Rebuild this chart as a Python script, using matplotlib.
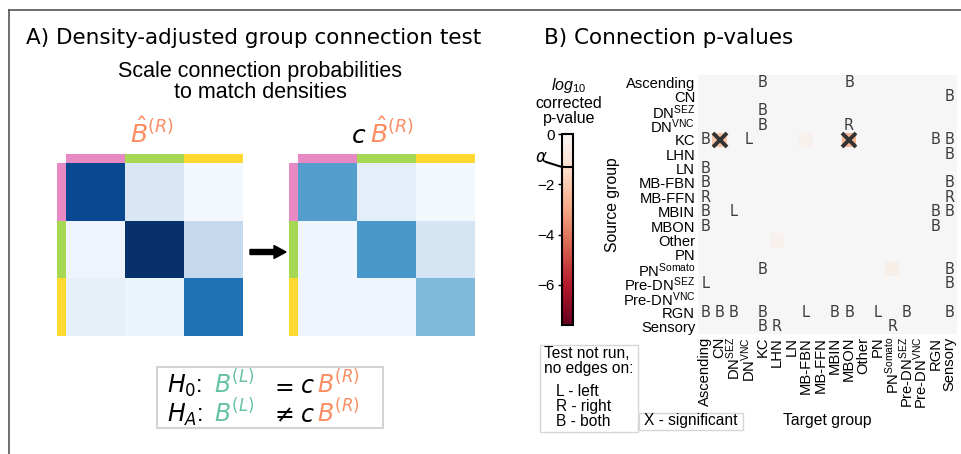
import numpy as np
import matplotlib
matplotlib.use("Agg")
import matplotlib.pyplot as plt
from matplotlib.patches import Rectangle, FancyArrow
from matplotlib.lines import Line2D
from matplotlib.transforms import IdentityTransform
from matplotlib.colors import ListedColormap, Normalize
import matplotlib.cm as cm

W, H = 962, 454

plt.rcParams['font.family'] = ['Liberation Sans', 'DejaVu Sans']
plt.rcParams['mathtext.fontset'] = 'custom'
plt.rcParams['mathtext.rm'] = 'Liberation Sans'
plt.rcParams['mathtext.it'] = 'Liberation Sans:italic'
plt.rcParams['mathtext.bf'] = 'Liberation Sans:bold'

# ---- data: panel A (toy block probabilities, Blues 0..1)
B_right = [[0.90, 0.15, 0.02],
           [0.05, 1.00, 0.25],
           [0.08, 0.06, 0.75]]
B_scaled = [[0.57, 0.10, 0.02],
            [0.04, 0.60, 0.17],
            [0.04, 0.04, 0.45]]
block_colors = ['#e78ac3', '#a6d854', '#ffd92f']
green = '#66c2a5'
orange = '#fc8d62'

# ---- data: panel B
groups = ['Ascending', 'CN', 'DN-SEZ', 'DN-VNC', 'KC', 'LHN', 'LN', 'MB-FBN',
          'MB-FFN', 'MBIN', 'MBON', 'Other', 'PN', 'PN-Somato', 'Pre-DN-SEZ',
          'Pre-DN-VNC', 'RGN', 'Sensory']
group_labels = ['Ascending', 'CN', r'DN$^{\mathrm{SEZ}}$', r'DN$^{\mathrm{VNC}}$', 'KC',
                'LHN', 'LN', 'MB-FBN', 'MB-FFN', 'MBIN', 'MBON', 'Other', 'PN',
                r'PN$^{\mathrm{Somato}}$', r'Pre-DN$^{\mathrm{SEZ}}$',
                r'Pre-DN$^{\mathrm{VNC}}$', 'RGN', 'Sensory']

# (source, target, letter) - test not run
not_run = [
    ('Ascending', 'KC', 'B'), ('Ascending', 'MBON', 'B'),
    ('CN', 'Sensory', 'B'),
    ('DN-SEZ', 'KC', 'B'),
    ('DN-VNC', 'KC', 'B'), ('DN-VNC', 'MBON', 'R'),
    ('KC', 'Ascending', 'B'), ('KC', 'DN-VNC', 'L'), ('KC', 'RGN', 'B'), ('KC', 'Sensory', 'B'),
    ('LHN', 'Sensory', 'B'),
    ('LN', 'Ascending', 'B'),
    ('MB-FBN', 'Ascending', 'B'), ('MB-FBN', 'Sensory', 'B'),
    ('MB-FFN', 'Ascending', 'R'), ('MB-FFN', 'Sensory', 'R'),
    ('MBIN', 'Ascending', 'B'), ('MBIN', 'DN-SEZ', 'L'), ('MBIN', 'RGN', 'B'), ('MBIN', 'Sensory', 'B'),
    ('MBON', 'Ascending', 'B'), ('MBON', 'RGN', 'B'),
    ('PN-Somato', 'KC', 'B'), ('PN-Somato', 'Sensory', 'B'),
    ('Pre-DN-SEZ', 'Ascending', 'L'), ('Pre-DN-SEZ', 'Sensory', 'B'),
    ('RGN', 'Ascending', 'B'), ('RGN', 'CN', 'B'), ('RGN', 'DN-SEZ', 'B'), ('RGN', 'KC', 'B'),
    ('RGN', 'MB-FBN', 'L'), ('RGN', 'MBIN', 'B'), ('RGN', 'MBON', 'B'), ('RGN', 'PN', 'L'),
    ('RGN', 'Pre-DN-SEZ', 'B'), ('RGN', 'Sensory', 'B'),
    ('Sensory', 'KC', 'B'), ('Sensory', 'LHN', 'R'), ('Sensory', 'PN-Somato', 'R'),
]
# (source, target, log10 corrected p) - cells that differ visibly from p = 1
log_pvals = [
    ('KC', 'CN', -2.1), ('KC', 'MB-FBN', -0.35), ('KC', 'MBON', -2.5),
    ('Other', 'LHN', -0.3), ('PN-Somato', 'PN-Somato', -0.45),
]
alpha = 0.05
vmin, vmax = -7.6, 0

reds = ListedColormap(plt.get_cmap('RdBu')(np.linspace(0, 0.5, 256)))


def box(x0, y0, x1, y1):
    return [x0 / W, 1 - y1 / H, (x1 - x0) / W, (y1 - y0) / H]


def fx(x):
    return x / W


def fy(y):
    return 1 - y / H


fig = plt.figure(figsize=(W / 100, H / 100), dpi=100)

# frame lines
fig.add_artist(Line2D([fx(9), 1], [fy(10), fy(10)], color='#555555', lw=1.2))
fig.add_artist(Line2D([fx(9), fx(9)], [fy(10), 0], color='#555555', lw=1.2))

# ---------------- panel A
fig.text(fx(26), fy(38), 'A) Density-adjusted group connection test', family='DejaVu Sans',
         fontsize=15.5, ha='left', va='center')
fig.text(fx(260), fy(82), 'Scale connection probabilities\nto match densities',
         fontsize=15.5, ha='center', va='center', linespacing=1.05)
mkw = dict(fontsize=18, ha='center', va='center', math_fontfamily='dejavusans')
fig.text(fx(152), fy(133), r'$\hat{B}^{(R)}$', color=orange, **mkw)
fig.text(fx(359), fy(136), r'$c$', color='black', **mkw)
fig.text(fx(392), fy(133), r'$\hat{B}^{(R)}$', color=orange, **mkw)


def block_matrix(x0, mat):
    ax = fig.add_axes(box(x0, 163, x0 + 177, 336))
    ax.imshow(mat, cmap='Blues', vmin=0, vmax=1, aspect='auto')
    ax.set_axis_off()
    top = fig.add_axes(box(x0, 154, x0 + 177, 163))
    top.imshow([list(range(3))], cmap=ListedColormap(block_colors), aspect='auto')
    top.set_axis_off()
    left = fig.add_axes(box(x0 - 9, 163, x0, 336))
    left.imshow([[0], [1], [2]], cmap=ListedColormap(block_colors), aspect='auto')
    left.set_axis_off()


block_matrix(66, B_right)
block_matrix(298, B_scaled)

fig.patches.append(FancyArrow(250, H - 252, 36, 0, width=5, head_width=13, head_length=12,
                              length_includes_head=True, color='black',
                              transform=IdentityTransform()))

# hypothesis box
fig.patches.append(Rectangle((fx(157), fy(428)), fx(383) - fx(157), fy(367) - fy(428),
                             transform=fig.transFigure, fill=False, ec='#d4d4d4', lw=1.5))
for base, sym, op in [(393, r'$H_0$:', r'$=$'), (422, r'$H_A$:', r'$\neq$')]:
    kw = dict(fontsize=17, ha='left', va='baseline', math_fontfamily='dejavusans')
    fig.text(fx(167), fy(base), sym, color='black', **kw)
    fig.text(fx(214), fy(base), r'$B^{(L)}$', color=green, **kw)
    fig.text(fx(270), fy(base), op, color='black', **kw)
    fig.text(fx(300), fy(base), r'$c$', color='black', **kw)
    fig.text(fx(317), fy(base), r'$B^{(R)}$', color=orange, **kw)

# ---------------- panel B
fig.text(fx(544), fy(38), 'B) Connection p-values', family='DejaVu Sans',
         fontsize=15.5, ha='left', va='center')

n = len(groups)
idx = {g: i for i, g in enumerate(groups)}
mat = np.zeros((n, n))
for s, t, v in log_pvals:
    mat[idx[s], idx[t]] = v

ax = fig.add_axes(box(698, 75, 957, 334))
ax.imshow(mat, cmap=reds, vmin=vmin, vmax=vmax, aspect='auto',
          extent=(-0.5, n - 0.5, n - 0.5, -0.5))
for s, t, letter in not_run:
    ax.text(idx[t], idx[s], letter, ha='center', va='center', fontsize=10.5,
            color='#3c3c3c', family='DejaVu Sans')
for s, t, v in log_pvals:
    if v < np.log10(alpha):
        ax.plot(idx[t], idx[s], marker='x', ms=9.5, mew=2.8, color='#333333')
ax.set_xlim(-0.5, n - 0.5)
ax.set_ylim(n - 0.5, -0.5)
for sp in ax.spines.values():
    sp.set_visible(False)
ax.set_xticks(range(n))
ax.set_yticks(range(n))
ax.set_xticklabels(group_labels, rotation=90, fontsize=10.6)
ax.set_yticklabels(group_labels, fontsize=10.6)
ax.tick_params(length=0, pad=2)
ax.set_xlabel('Target group', fontsize=11.3)
ax.xaxis.set_label_coords(0.5, -0.305)
fig.text(fx(613), fy(205), 'Source group', rotation=90, fontsize=11.3,
         ha='center', va='center')

# colorbar
cax = fig.add_axes(box(562, 134, 573, 325))
sm = cm.ScalarMappable(norm=Normalize(vmin, vmax), cmap=reds)
cb = fig.colorbar(sm, cax=cax, ticks=[0, -2, -4, -6])
cb.outline.set_linewidth(1.5)
cax.yaxis.set_ticks_position('left')
cax.tick_params(labelsize=11, length=3, width=1, pad=2)
cax.axhline(np.log10(alpha), color='black', lw=1.5)
fig.text(fx(541), fy(157), r'$\alpha$', fontsize=12, ha='center', va='center',
         math_fontfamily='dejavusans')
fig.add_artist(Line2D([fx(546), fx(562)], [fy(162), fy(167)], color='black', lw=1.5))
fig.text(fx(569), fy(101), '$log_{10}$\ncorrected\np-value', fontsize=11.5,
         ha='center', va='center', linespacing=1.05)

# legend boxes
fig.patches.append(Rectangle((fx(540), fy(432)), fx(638) - fx(540), fy(345) - fy(432),
                             transform=fig.transFigure, fill=False, ec='#d6d6d6', lw=1))
lkw = dict(fontsize=11.2, va='center')
fig.text(fx(544), fy(354), 'Test not run,', **lkw)
fig.text(fx(544), fy(369), 'no edges on:', **lkw)
fig.text(fx(556), fy(391), 'L - left', **lkw)
fig.text(fx(556), fy(406), 'R - right', **lkw)
fig.text(fx(556), fy(421), 'B - both', **lkw)
fig.patches.append(Rectangle((fx(639), fy(430)), fx(743) - fx(639), fy(413) - fy(430),
                             transform=fig.transFigure, fill=False, ec='#d6d6d6', lw=1))
fig.text(fx(644), fy(421), 'X - significant', **lkw)

fig.savefig('out.png', dpi=100)
